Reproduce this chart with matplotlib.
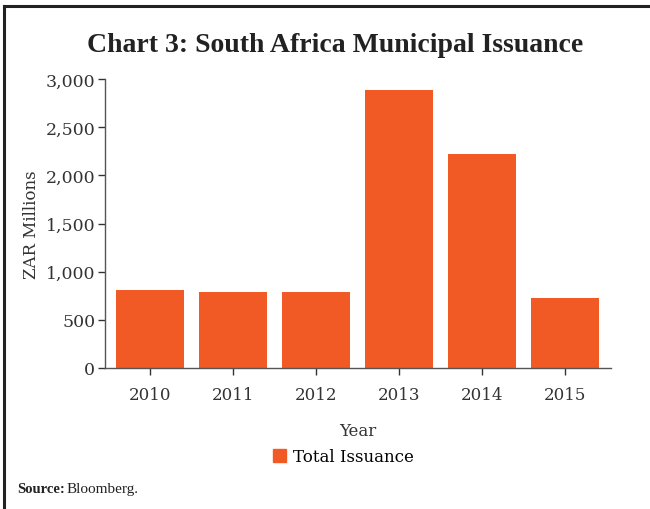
import matplotlib
matplotlib.use("Agg")
import matplotlib.pyplot as plt
from matplotlib.lines import Line2D
from matplotlib.patches import Patch
from matplotlib.ticker import FuncFormatter

# data
years = ["2010", "2011", "2012", "2013", "2014", "2015"]
issuance = [810, 790, 790, 2885, 2225, 727]

bar_color = "#F15A24"
plt.rcParams['font.family'] = ['DejaVu Serif']

fig = plt.figure(figsize=(6.5, 5.1), dpi=100)
ax = fig.add_axes([0.1615, 0.2765, 0.7785, 0.5665])

ax.bar(range(len(years)), issuance, width=0.82, color=bar_color, label="Total Issuance")
ax.set_xlim(-0.54, 5.55)
ax.set_ylim(0, 3000)
ax.set_xticks(range(len(years)))
ax.set_xticklabels(years)
ax.set_yticks([0, 500, 1000, 1500, 2000, 2500, 3000])
ax.yaxis.set_major_formatter(FuncFormatter(lambda v, p: f"{int(v):,}"))

for s in ["top", "right"]:
    ax.spines[s].set_visible(False)
for s in ["left", "bottom"]:
    ax.spines[s].set_color("#555555")
    ax.spines[s].set_linewidth(1.0)
ax.tick_params(axis="both", colors="#333333", labelsize=12, length=5, width=1, direction="out")
ax.tick_params(axis="x", pad=8)
ax.tick_params(axis="y", labelsize=12.5, pad=2)

ax.set_ylabel("ZAR Millions", fontsize=12, color="#333333", labelpad=4)
ax.set_xlabel("Year", fontsize=12, color="#333333", labelpad=14)

fig.text(0.515, 0.91, "Chart 3: South Africa Municipal Issuance", ha="center", va="center",
         fontsize=20, fontweight="bold", color="#222222", family="Liberation Serif")

fig.legend(handles=[Patch(color=bar_color, label="Total Issuance")], loc="center",
           bbox_to_anchor=(0.528, 0.103), frameon=False, fontsize=12,
           handlelength=0.8, handleheight=0.8, handletextpad=0.4)

fig.text(0.026, 0.04, "Source:", ha="left", va="center", fontsize=10.5,
         fontweight="bold", color="#222222", family="Liberation Serif")
fig.text(0.103, 0.04, "Bloomberg.", ha="left", va="center", fontsize=11,
         color="#222222", family="Liberation Serif")

# frame lines on top and left
fig.add_artist(Line2D([0.006, 1.0], [0.986, 0.986], color="#222222", linewidth=2.2, transform=fig.transFigure))
fig.add_artist(Line2D([0.006, 0.006], [0.0, 0.986], color="#222222", linewidth=2.2, transform=fig.transFigure))

fig.savefig("out.png", dpi=100)
